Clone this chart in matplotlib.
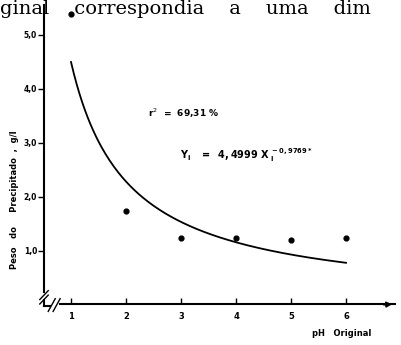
import numpy as np
import matplotlib
matplotlib.use("Agg")
import matplotlib.pyplot as plt

# Data
ph = [1, 2, 3, 4, 5, 6]
peso = [5.39, 1.74, 1.24, 1.24, 1.20, 1.24]
coef_a = 4.4999
coef_b = -0.9769
xticks = [1, 2, 3, 4, 5, 6]
yticks = [1.0, 2.0, 3.0, 4.0, 5.0]
ytick_labels = ["1,0", "2,0", "3,0", "4,0", "5,0"]

fig = plt.figure(figsize=(4.02, 3.45), dpi=100)
fig.patch.set_facecolor("white")

ax = fig.add_axes([44/402, 1-304/345, 351/402, 296/345])
ax.set_xlim(0.509, 6.89)
ax.set_ylim(0.0185, 5.5)
ax.patch.set_alpha(0)
for s in ax.spines.values():
    s.set_visible(False)

# fitted curve
xc = np.linspace(1, 6, 200)
ax.plot(xc, coef_a * xc ** coef_b, color="black", lw=1.3)
# points
ax.scatter(ph, peso, s=12, color="black", zorder=3)

# axis lines (drawn manually with breaks)
tr = ax.transAxes
ax.plot([0, 0], [1.01, 0.04], color="black", lw=1.5, transform=tr, clip_on=False)
ax.plot([0, 0], [0.012, -0.007], color="black", lw=1.5, transform=tr, clip_on=False)
ax.plot([0, 0.018], [-0.007, -0.007], color="black", lw=1.5, transform=tr, clip_on=False)
ax.plot([0.045, 1.0], [0, 0], color="black", lw=1.5, transform=tr, clip_on=False)
# break marks
ax.plot([-0.012, 0.012], [0.015, 0.045], color="black", lw=1.0, transform=tr, clip_on=False)
ax.plot([-0.012, 0.012], [0.0, 0.03], color="black", lw=1.0, transform=tr, clip_on=False)
ax.plot([0.012, 0.032], [-0.025, 0.018], color="black", lw=1.0, transform=tr, clip_on=False)
ax.plot([0.026, 0.046], [-0.025, 0.018], color="black", lw=1.0, transform=tr, clip_on=False)
# arrow head
ax.annotate("", xy=(1.0, 0.0), xytext=(0.96, -0.003), xycoords=tr,
            arrowprops=dict(arrowstyle="-|>", color="black", lw=1.2,
                            mutation_scale=8), annotation_clip=False)

ax.set_xticks(xticks)
ax.set_xticklabels([str(v) for v in xticks])
ax.set_yticks(yticks)
ax.set_yticklabels(ytick_labels)
ax.tick_params(axis="x", direction="in", length=4, width=1, pad=6,
               labelsize=6)
ax.tick_params(axis="y", direction="out", length=4, width=1, pad=1,
               labelsize=5.5)
for lab in ax.get_xticklabels() + ax.get_yticklabels():
    lab.set_fontweight("bold")

fig.text(15/402, 1-200/345, "Peso   do     Precipitado  ,  g/l", rotation=90,
         ha="center", va="center", fontsize=6, fontweight="bold")
fig.text(342/402, 1-333/345, "pH   Original", ha="center", va="center",
         fontsize=6, fontweight="bold")

ax.text(148/402, 1-113/345, "r$^2$  =  69,31 %", transform=fig.transFigure,
        ha="left", va="center", fontsize=6.5, fontweight="bold")
ax.text(180/402, 1-155/345,
        r"$\mathbf{Y_i\ \ \ =\ \ 4,4999\ X_{\ i}^{\ -0,9769*}}$",
        transform=fig.transFigure, ha="left", va="center", fontsize=7)

# text line from the page above
fig.text(0.0, 1.0, "ginal    correspondia    a    uma    dim",
         ha="left", va="top", fontsize=14, family="DejaVu Serif")

fig.savefig("out.png", dpi=100, facecolor="white")
